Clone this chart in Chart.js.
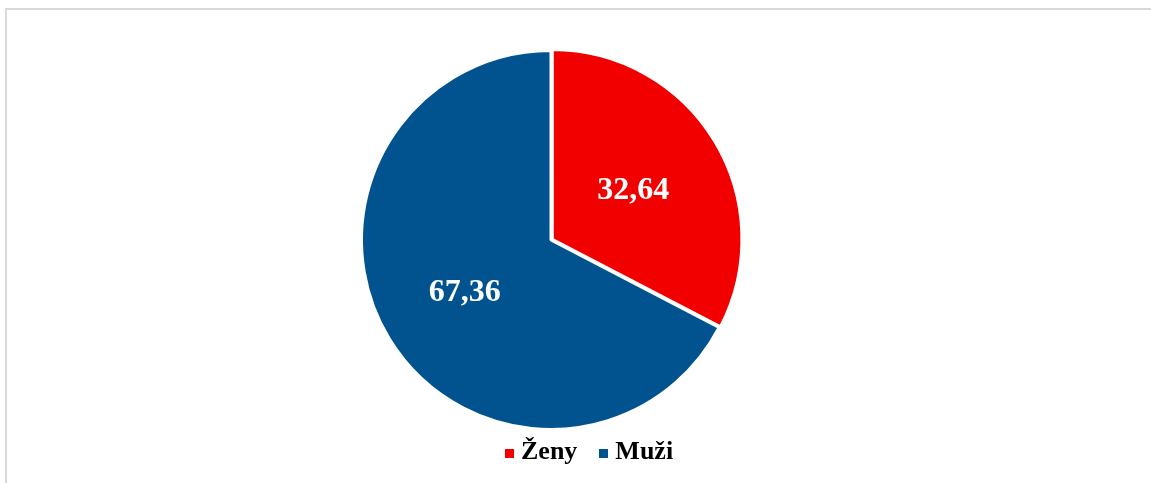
<!DOCTYPE html>
<html>
<head>
<meta charset="utf-8">
<script src="https://cdn.jsdelivr.net/npm/chart.js@4.4.1/dist/chart.umd.min.js"></script>
<style>
    html, body { margin: 0; padding: 0; background: #fff; overflow: hidden; }
    #frame {
        position: absolute; left: 5px; top: 8px; width: 1200px; height: 500px;
        border-top: 2px solid #d9d9d9; border-left: 2px solid #d9d9d9;
    }
    #wrap { position: absolute; left: 0; top: 0; width: 1151px; height: 483px; }
    #legend {
        position: absolute; left: 505px; top: 436px;
        display: flex; align-items: center;
        font: bold 26px "Liberation Serif", "Times New Roman", serif; line-height: 30px; color: #000;
    }
    #legend .item { display: flex; align-items: center; margin-right: 22px; }
    #legend .box  { width: 9px; height: 9px; margin-right: 7px; margin-top: 4px; }
</style>
</head>
<body>
<div id="frame"></div>
<div id="wrap"><canvas id="chart" width="1151" height="483"></canvas></div>
<div id="legend"></div>
<script>
    // ─── Data ──────────────────────────────────────────────────────────────
    const labels = ['Ženy', 'Muži'];
    const values = [32.64, 67.36];
    const colors = ['#f20000', '#00538f'];
    const offsets = [6, 0];

    const formatValue = v => v.toFixed(2).replace('.', ',');

    // Draw value labels in the middle of each slice
    const sliceLabels = {
        id: 'sliceLabels',
        afterDatasetsDraw(chart) {
            const { ctx } = chart;
            const meta = chart.getDatasetMeta(0);
            ctx.save();
            ctx.font = 'bold 32px "Liberation Serif", "Times New Roman", serif';
            ctx.fillStyle = '#fff';
            ctx.textAlign = 'center';
            ctx.textBaseline = 'middle';
            meta.data.forEach((arc, i) => {
                const { startAngle, endAngle, outerRadius, x, y } = arc.getProps(['startAngle', 'endAngle', 'outerRadius', 'x', 'y'], true);
                const mid = (startAngle + endAngle) / 2;
                const r = outerRadius * 0.52;
                ctx.fillText(formatValue(values[i]), x + Math.cos(mid) * r - 2, y + Math.sin(mid) * r + 2);
            });
            ctx.restore();
        },
    };

    new Chart(document.getElementById('chart'), {
        type: 'pie',
        data: {
            labels,
            datasets: [{
                data: values,
                backgroundColor: colors,
                borderColor: '#fff',
                borderWidth: 3,
                offset: offsets,
            }],
        },
        options: {
            responsive: false,
            animation: false,
            layout: { padding: { left: 357, right: 406, top: 46, bottom: 49 } },
            plugins: {
                legend: { display: false },
                tooltip: { enabled: false },
            },
        },
        plugins: [sliceLabels],
    });

    // HTML legend built from the same arrays
    const legendEl = document.getElementById('legend');
    labels.forEach((label, i) => {
        const item = document.createElement('div');
        item.className = 'item';
        const box = document.createElement('span');
        box.className = 'box';
        box.style.background = colors[i];
        const text = document.createElement('span');
        text.textContent = label;
        item.append(box, text);
        legendEl.appendChild(item);
    });
</script>
</body>
</html>
